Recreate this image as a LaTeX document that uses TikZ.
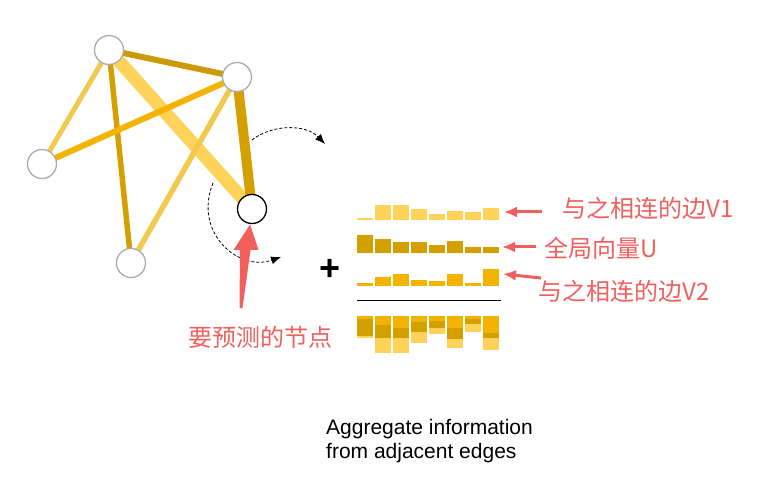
\documentclass[tikz,border=0pt]{standalone}
\usepackage{fontspec}
\setmainfont{Liberation Sans}
\newfontfamily\cjk{Noto Sans CJK SC}
\usetikzlibrary{arrows.meta,backgrounds}
\definecolor{lightY}{HTML}{FFD35A}
\definecolor{paleY}{HTML}{F0CA4F}
\definecolor{midY}{HTML}{F2B400}
\definecolor{darkY}{HTML}{D4A000}
\definecolor{darkerY}{HTML}{CC9A06}
\definecolor{redA}{HTML}{F25F5C}
\definecolor{redT}{HTML}{F0605D}
\begin{document}
\begin{tikzpicture}[x=1pt,y=-1pt,
  gnode/.style={circle,draw=black!33,line width=1.3pt,fill=white,minimum size=29pt,inner sep=0pt},
  tnode/.style={circle,draw=black,line width=1.3pt,fill=white,minimum size=29pt,inner sep=0pt},
  edge/.style={line cap=butt},
  dasharc/.style={densely dashed,line width=0.8pt,-{Latex[length=10pt,width=8pt]}},
  redlabel/.style={text=redT,font=\cjk\fontsize{24}{28}\selectfont,inner sep=0pt},
  redarrow/.style={draw=redA,line width=3pt,-{Latex[length=13pt,width=11pt]}},
  barlight/.style={fill=lightY},
  bardark/.style={fill=darkY},
  barmid/.style={fill=midY}]
\useasboundingbox (0,0) rectangle (764,484);
% graph nodes
\node[gnode] (A) at (109,50) {};
\node[gnode] (B) at (237,77) {};
\node[gnode] (C) at (42,164) {};
\node[gnode] (D) at (131,263) {};
\node[tnode] (E) at (252,209) {};
\begin{pgfonlayer}{background}
\draw[edge,darkerY,line width=6pt] (A.center) -- (B.center);
\draw[edge,paleY,line width=5pt] (A.center) -- (C.center);
\draw[edge,darkY,line width=5.5pt] (A.center) -- (D.center);
\draw[edge,lightY,line width=13pt] (A.center) -- (E.center);
\draw[edge,midY,line width=6pt] (B.center) -- (C.center);
\draw[edge,paleY,line width=5.5pt] (B.center) -- (D.center);
\draw[edge,darkY,line width=10pt] (B.center) -- (E.center);
\end{pgfonlayer}
% dashed arcs
\coordinate (t1) at (252,140);
\coordinate (t2) at (325,144);
\draw[dasharc] (t1) .. controls (272,124) and (306,124) .. (t2);
\coordinate (b1) at (213,183);
\coordinate (b2) at (281,257);
\draw[dasharc] (b1) .. controls (193,232) and (238,272) .. (b2);
% red big arrow
\fill[redA] (239.5,308) -- (240,250) -- (233.5,250) -- (250,224.5) -- (258.5,250) -- (250.5,250) -- (242.5,308) -- cycle;
\node[redlabel] (target) at (260,337) {要预测的节点};
% plus
\node[font=\bfseries\fontsize{36}{36}\selectfont,inner sep=0pt] (plus) at (330,270) {+};
% bars rows
\foreach \h [count=\i from 0] in {2,14.7,14.7,10.7,5.7,8.7,7.7,11.7}
  \fill[barlight] ({357+18*\i},219.7) rectangle ++(16,-\h);
\foreach \h [count=\i from 0] in {17.7,13.7,10.7,10.7,7.7,11.7,5.7,5.7}
  \fill[bardark] ({357+18*\i},252.7) rectangle ++(16,-\h);
\foreach \h [count=\i from 0] in {2.7,8.7,11.7,5.7,4.7,11.7,2.7,16.7}
  \fill[barmid] ({357+18*\i},285.7) rectangle ++(16,-\h);
\draw[line width=1.3pt] (356.7,300.3) -- (500.7,300.3);
% stacked
\foreach \a/\b/\c [count=\i from 0] in {2/17.7/2.7,14.7/13.7/8.7,14.7/10.7/11.7,10.7/10.7/5.7,5.7/7.7/4.7,8.7/11.7/11.7,7.7/5.7/2.7,11.7/5.7/16.7}{
  \fill[barmid] ({357+18*\i},316) rectangle ++(16,\c);
  \fill[bardark] ({357+18*\i},316+\c) rectangle ++(16,\b);
  \fill[barlight] ({357+18*\i},316+\c+\b) rectangle ++(16,\a);
}
% labels
\node[redlabel,anchor=west] (v1) at (562,208) {与之相连的边V1};
\node[redlabel,anchor=west] (u) at (544,248) {全局向量U};
\node[redlabel,anchor=west] (v2) at (538,291) {与之相连的边V2};
\coordinate (v1s) at (542,212);
\coordinate (v1e) at (504,212);
\coordinate (us) at (536,247);
\coordinate (ue) at (502,247);
\coordinate (v2s) at (541,278);
\coordinate (v2e) at (503,274);
\draw[redarrow] (v1s) -- (v1e);
\draw[redarrow] (us) -- (ue);
\draw[redarrow] (v2s) -- (v2e);
% caption
\node[anchor=west,align=left,font=\fontsize{21}{24}\selectfont,inner sep=0pt] (cap) at (326,441) {Aggregate information\\from adjacent edges};
\end{tikzpicture}
\end{document}
